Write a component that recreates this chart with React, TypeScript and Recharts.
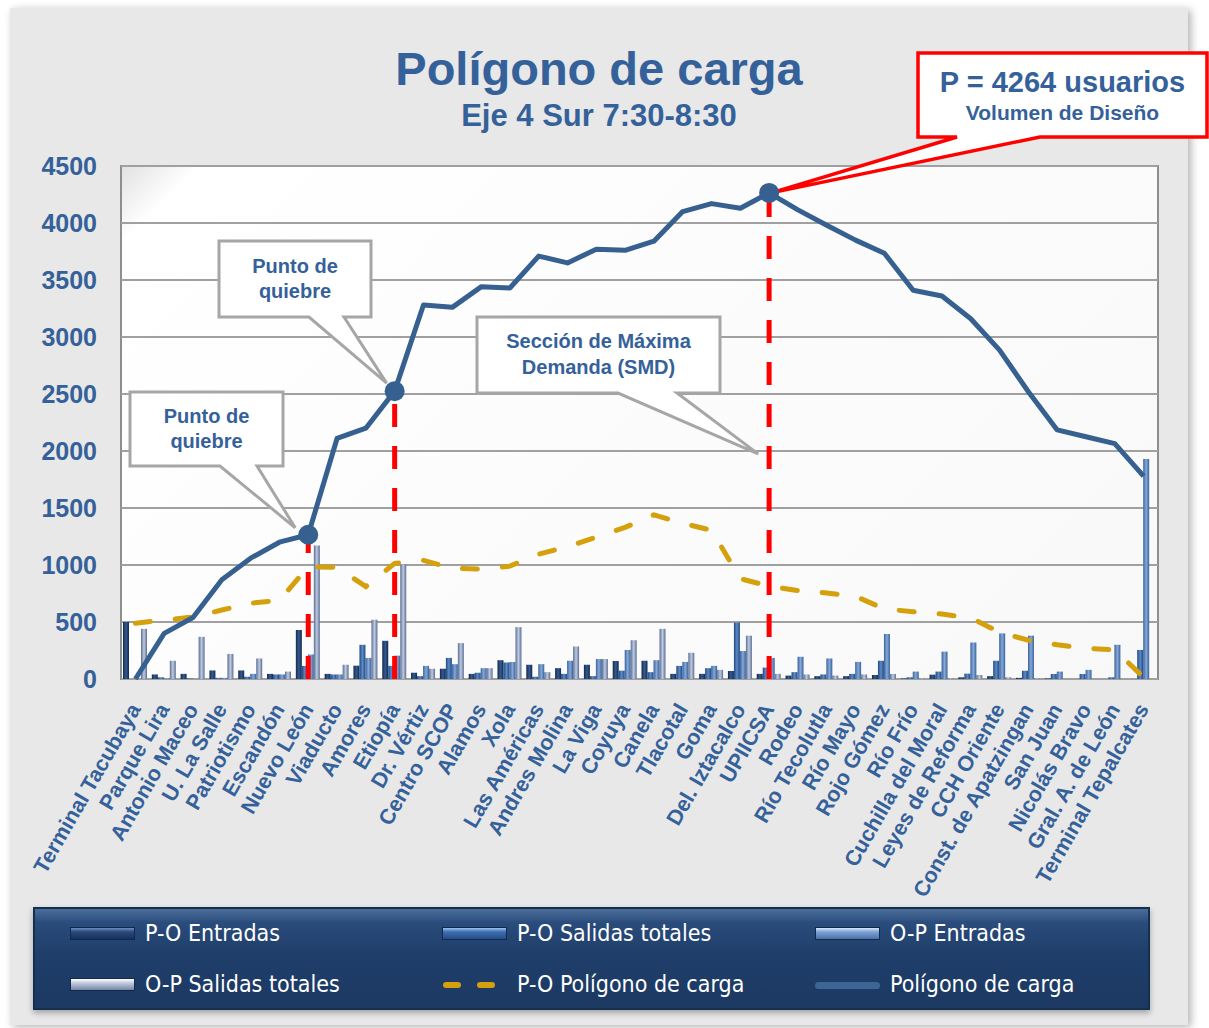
import React from "react";
import {
  ComposedChart,
  Bar,
  Line,
  XAxis,
  YAxis,
  CartesianGrid,
  Legend,
  ReferenceLine,
  ReferenceDot,
} from "recharts";

const stations = [
  "Terminal Tacubaya", "Parque Lira", "Antonio Maceo", "U. La Salle", "Patriotismo",
  "Escandón", "Nuevo León", "Viaducto", "Amores", "Etiopía", "Dr. Vértiz",
  "Centro SCOP", "Alamos", "Xola", "Las Américas", "Andres Molina", "La Viga",
  "Coyuya", "Canela", "Tlacotal", "Goma", "Del. Iztacalco", "UPIICSA", "Rodeo",
  "Río Tecolutla", "Río Mayo", "Rojo Gómez", "Río Frío", "Cuchilla del Moral",
  "Leyes de Reforma", "CCH Oriente", "Const. de Apatzingan", "San Juan",
  "Nicolás Bravo", "Gral. A. de León", "Terminal Tepalcates",
];

const poEntradas = [500, 40, 45, 75, 75, 45, 430, 45, 117, 335, 55, 90, 45, 165, 125, 95, 125, 158, 160, 45, 45, 70, 45, 30, 25, 25, 35, 5, 38, 15, 25, 10, 5, 0, 0, 0];
const poSalidas = [0, 15, 5, 10, 20, 40, 115, 40, 300, 115, 25, 185, 55, 145, 20, 45, 25, 73, 60, 115, 95, 495, 100, 60, 40, 45, 160, 15, 65, 47, 160, 73, 44, 44, 15, 255];
const opEntradas = [0, 5, 0, 10, 45, 40, 215, 40, 185, 205, 115, 130, 95, 150, 130, 160, 175, 255, 165, 150, 115, 245, 185, 195, 180, 150, 395, 65, 240, 320, 400, 380, 65, 80, 300, 1930];
const opSalidas = [440, 160, 370, 220, 180, 65, 1170, 125, 520, 1005, 90, 315, 95, 455, 60, 285, 175, 340, 440, 230, 80, 380, 45, 40, 30, 40, 44, 5, 5, 35, 15, 5, 0, 0, 0, 0];
const poPoligono = [490, 517, 544, 605, 665, 690, 985, 980, 810, 1015, 1040, 970, 965, 990, 1095, 1160, 1245, 1330, 1440, 1365, 1305, 880, 815, 775, 755, 725, 615, 590, 570, 535, 410, 340, 300, 270, 255, 15];
const poligono = [0, 400, 540, 870, 1060, 1200, 1265, 2110, 2200, 2525, 3280, 3260, 3440, 3430, 3710, 3650, 3770, 3760, 3840, 4100, 4170, 4130, 4264, 4115, 3980, 3850, 3735, 3410, 3360, 3160, 2885, 2520, 2185, 2125, 2065, 1780];

const yTicks = [0, 500, 1000, 1500, 2000, 2500, 3000, 3500, 4000, 4500];
const breakStations = ["Nuevo León", "Etiopía", "UPIICSA"];
const smdValue = 1975;

const data = stations.map((station, i) => ({
  station,
  poEntradas: poEntradas[i],
  poSalidas: poSalidas[i],
  opEntradas: opEntradas[i],
  opSalidas: opSalidas[i],
  poPoligono: poPoligono[i],
  poligono: poligono[i],
}));

const valueAt = (name: string) => poligono[stations.indexOf(name)];
const peakStation = stations[poligono.indexOf(Math.max(...poligono))];

const BLUE = "#35619a";
const LINE_BLUE = "#36608f";
const GOLD = "#d4a00c";
const FONT = "'Liberation Sans', Arial, sans-serif";

function StationTick(props: any) {
  const { x, y, payload } = props;
  const ax = x + 6;
  const ay = y + 30;
  return (
    <text
      x={ax}
      y={ay}
      transform={`rotate(-60 ${ax} ${ay})`}
      textAnchor="end"
      fontSize={21.5}
      fontWeight="bold"
      fill={BLUE}
      fontFamily={FONT}
    >
      {payload.value}
    </text>
  );
}

type CalloutCfg = {
  box: { x: number; y: number; w: number; h: number };
  base: [number, number];
  dx: number;
  dy: number;
  stroke: string;
  sw: number;
  lines: { text: string; size: number; cy: number }[];
};

function makeCallout(c: CalloutCfg) {
  return (props: any) => {
    const tx = props.cx + c.dx;
    const ty = props.cy + c.dy;
    const { x, y, w, h } = c.box;
    const d = `M${x},${y} H${x + w} V${y + h} H${c.base[1]} L${tx},${ty} L${c.base[0]},${y + h} H${x} Z`;
    return (
      <g>
        <path d={d} fill="#ffffff" stroke={c.stroke} strokeWidth={c.sw} />
        {c.lines.map((l, i) => (
          <text
            key={i}
            x={x + w / 2}
            y={y + l.cy}
            textAnchor="middle"
            dominantBaseline="central"
            fontSize={l.size}
            fontWeight="bold"
            fill={BLUE}
            fontFamily={FONT}
          >
            {l.text}
          </text>
        ))}
      </g>
    );
  };
}

const quiebre1 = makeCallout({
  box: { x: 130, y: 392, w: 153, h: 74 },
  base: [220, 257],
  dx: -13,
  dy: -7,
  stroke: "#a6a6a6",
  sw: 3,
  lines: [
    { text: "Punto de", size: 20, cy: 24 },
    { text: "quiebre", size: 20, cy: 49 },
  ],
});

const quiebre2 = makeCallout({
  box: { x: 219, y: 241, w: 152, h: 76 },
  base: [309, 344],
  dx: -8,
  dy: -8,
  stroke: "#a6a6a6",
  sw: 3,
  lines: [
    { text: "Punto de", size: 20, cy: 25 },
    { text: "quiebre", size: 20, cy: 50 },
  ],
});

const smdCallout = makeCallout({
  box: { x: 477, y: 317, w: 243, h: 76 },
  base: [618, 677],
  dx: -11,
  dy: 0,
  stroke: "#a6a6a6",
  sw: 3,
  lines: [
    { text: "Sección de Máxima", size: 20, cy: 24 },
    { text: "Demanda (SMD)", size: 20, cy: 50 },
  ],
});

const peakCallout = makeCallout({
  box: { x: 918, y: 53, w: 289, h: 84 },
  base: [957, 1040],
  dx: 2,
  dy: 0,
  stroke: "#ff0000",
  sw: 3.5,
  lines: [
    { text: `P = ${Math.max(...poligono)} usuarios`, size: 29, cy: 29 },
    { text: "Volumen de Diseño", size: 21, cy: 59 },
  ],
});

const legendItems = [
  { label: "P-O Entradas", kind: "bar", bg: "linear-gradient(#6f8fbf, #2a4a7c 35%, #17305a)" },
  { label: "P-O Salidas totales", kind: "bar", bg: "linear-gradient(#9cc2f0, #3f6fb0 35%, #234d88)" },
  { label: "O-P Entradas", kind: "bar", bg: "linear-gradient(#d8e6fa, #7fa3d6 35%, #4a71a8)" },
  { label: "O-P Salidas totales", kind: "bar", bg: "linear-gradient(#ffffff, #c3cde0 35%, #7685a6)" },
  { label: "P-O Polígono de carga", kind: "dash", bg: GOLD },
  { label: "Polígono de carga", kind: "line", bg: "#3d6595" },
];

function LegendBox() {
  const cols = [37, 409, 782];
  const rows = [27, 78];
  return (
    <div
      style={{
        position: "relative",
        width: 1117,
        height: 103,
        boxSizing: "border-box",
        border: "2px solid #14304f",
        background: "linear-gradient(#4a6d99 0%, #2a4c7c 14%, #1f3e6a 45%, #1b3962 100%)",
        boxShadow: "0 3px 6px rgba(0,0,0,0.3)",
      }}
    >
      {legendItems.map((it, i) => {
        const left = cols[i % 3] - 2;
        const top = rows[Math.floor(i / 3)] - 2;
        let swatch: React.ReactNode;
        if (it.kind === "bar") {
          swatch = (
            <div style={{ position: "absolute", left: 0, top: -7, width: 65, height: 13, background: it.bg, border: "1px solid #112a4a", boxSizing: "border-box" }} />
          );
        } else if (it.kind === "dash") {
          swatch = (
            <svg style={{ position: "absolute", left: 0, top: -6 }} width={65} height={12}>
              <line x1={4} y1={6} x2={60} y2={6} stroke={it.bg} strokeWidth={6} strokeLinecap="round" strokeDasharray="12 22" />
            </svg>
          );
        } else {
          swatch = (
            <div style={{ position: "absolute", left: 0, top: -3, width: 65, height: 7, borderRadius: 4, background: it.bg }} />
          );
        }
        return (
          <div key={it.label} style={{ position: "absolute", left, top }}>
            {swatch}
            <span
              style={{
                position: "absolute",
                left: 75,
                top: -15,
                whiteSpace: "nowrap",
                color: "#ffffff",
                fontFamily: "'DejaVu Sans Condensed', 'DejaVu Sans', sans-serif",
                fontStretch: "condensed",
                fontSize: 23,
                lineHeight: "28px",
              }}
            >
              {it.label}
            </span>
          </div>
        );
      })}
    </div>
  );
}

export default function App() {
  return (
    <div style={{ position: "absolute", left: 0, top: 0, width: 1209, height: 1028, background: "#ffffff", overflow: "hidden" }}>
      <div
        style={{
          position: "absolute",
          left: 10,
          top: 8,
          width: 1178,
          height: 1017,
          background: "#e8e8e8",
          boxShadow: "3px 2px 8px rgba(0,0,0,0.3)",
        }}
      />
      <div
        style={{
          position: "absolute",
          left: 120,
          top: 165,
          width: 1039,
          height: 515,
          boxSizing: "border-box",
          border: "2px solid #8e8e8e",
          background: "linear-gradient(135deg, #e2e2e2 0%, #ffffff 5%, #fbfbfb 60%, #f8f8f8 100%)",
        }}
      />
      <svg style={{ position: "absolute", left: 0, top: 0 }} width={1209} height={150}>
        <text x={599} y={85} textAnchor="middle" fontSize={47} fontWeight="bold" fill={BLUE} fontFamily={FONT}>
          Polígono de carga
        </text>
        <text x={599} y={126} textAnchor="middle" fontSize={31} fontWeight="bold" fill={BLUE} fontFamily={FONT}>
          Eje 4 Sur 7:30-8:30
        </text>
      </svg>
      <div style={{ position: "absolute", left: 0, top: 0 }}>
        <ComposedChart
          width={1209}
          height={1028}
          data={data}
          margin={{ top: 166, right: 51, bottom: 18, left: 0 }}
          barCategoryGap={2}
          barGap={0}
        >
          <defs>
            <linearGradient id="gPoE" x1="0" y1="0" x2="1" y2="0">
              <stop offset="0%" stopColor="#132a4f" />
              <stop offset="50%" stopColor="#355a8f" />
              <stop offset="100%" stopColor="#132a4f" />
            </linearGradient>
            <linearGradient id="gPoS" x1="0" y1="0" x2="1" y2="0">
              <stop offset="0%" stopColor="#21487f" />
              <stop offset="50%" stopColor="#5c8bc9" />
              <stop offset="100%" stopColor="#21487f" />
            </linearGradient>
            <linearGradient id="gOpE" x1="0" y1="0" x2="1" y2="0">
              <stop offset="0%" stopColor="#3a629a" />
              <stop offset="50%" stopColor="#87a9da" />
              <stop offset="100%" stopColor="#3a629a" />
            </linearGradient>
            <linearGradient id="gOpS" x1="0" y1="0" x2="1" y2="0">
              <stop offset="0%" stopColor="#5a6d94" />
              <stop offset="50%" stopColor="#bfcbe0" />
              <stop offset="100%" stopColor="#5a6d94" />
            </linearGradient>
          </defs>
          <CartesianGrid vertical={false} stroke="#a0a0a0" strokeWidth={2} />
          <XAxis
            dataKey="station"
            height={228}
            interval={0}
            tickLine={false}
            axisLine={false}
            tickSize={0}
            tickMargin={0}
            tick={<StationTick />}
          />
          <YAxis
            width={121}
            domain={[0, 4500]}
            ticks={yTicks}
            tickLine={false}
            axisLine={false}
            tickSize={0}
            tickMargin={24}
            tick={{ fill: BLUE, fontSize: 25, fontWeight: "bold", fontFamily: FONT }}
          />
          <Legend
            verticalAlign="bottom"
            height={103}
            wrapperStyle={{ left: 33, bottom: 18, width: 1117 }}
            content={() => <LegendBox />}
          />
          <Bar dataKey="poEntradas" name="P-O Entradas" fill="url(#gPoE)" isAnimationActive={false} />
          <Bar dataKey="poSalidas" name="P-O Salidas totales" fill="url(#gPoS)" isAnimationActive={false} />
          <Bar dataKey="opEntradas" name="O-P Entradas" fill="url(#gOpE)" isAnimationActive={false} />
          <Bar dataKey="opSalidas" name="O-P Salidas totales" fill="url(#gOpS)" isAnimationActive={false} />
          <Line
            type="linear"
            dataKey="poPoligono"
            name="P-O Polígono de carga"
            stroke={GOLD}
            strokeWidth={5}
            strokeDasharray="15 25"
            strokeLinecap="round"
            dot={false}
            isAnimationActive={false}
          />
          <ReferenceDot x={breakStations[0]} y={valueAt(breakStations[0])} shape={quiebre1} />
          <ReferenceDot x={breakStations[1]} y={valueAt(breakStations[1])} shape={quiebre2} />
          <ReferenceDot x={peakStation} y={smdValue} shape={smdCallout} />
          <ReferenceDot x={peakStation} y={valueAt(peakStation)} shape={peakCallout} />
          {breakStations.map((s) => (
            <ReferenceLine
              key={s}
              segment={[
                { x: s, y: 0 },
                { x: s, y: valueAt(s) },
              ]}
              stroke="#ff0000"
              strokeWidth={5}
              strokeDasharray="23 19"
            />
          ))}
          <Line
            type="linear"
            dataKey="poligono"
            name="Polígono de carga"
            stroke={LINE_BLUE}
            strokeWidth={5}
            strokeLinejoin="round"
            isAnimationActive={false}
            dot={(p: any) =>
              breakStations.includes(p.payload.station) ? (
                <circle key={p.index} cx={p.cx} cy={p.cy} r={10} fill={LINE_BLUE} />
              ) : (
                <g key={p.index} />
              )
            }
          />
        </ComposedChart>
      </div>
    </div>
  );
}
